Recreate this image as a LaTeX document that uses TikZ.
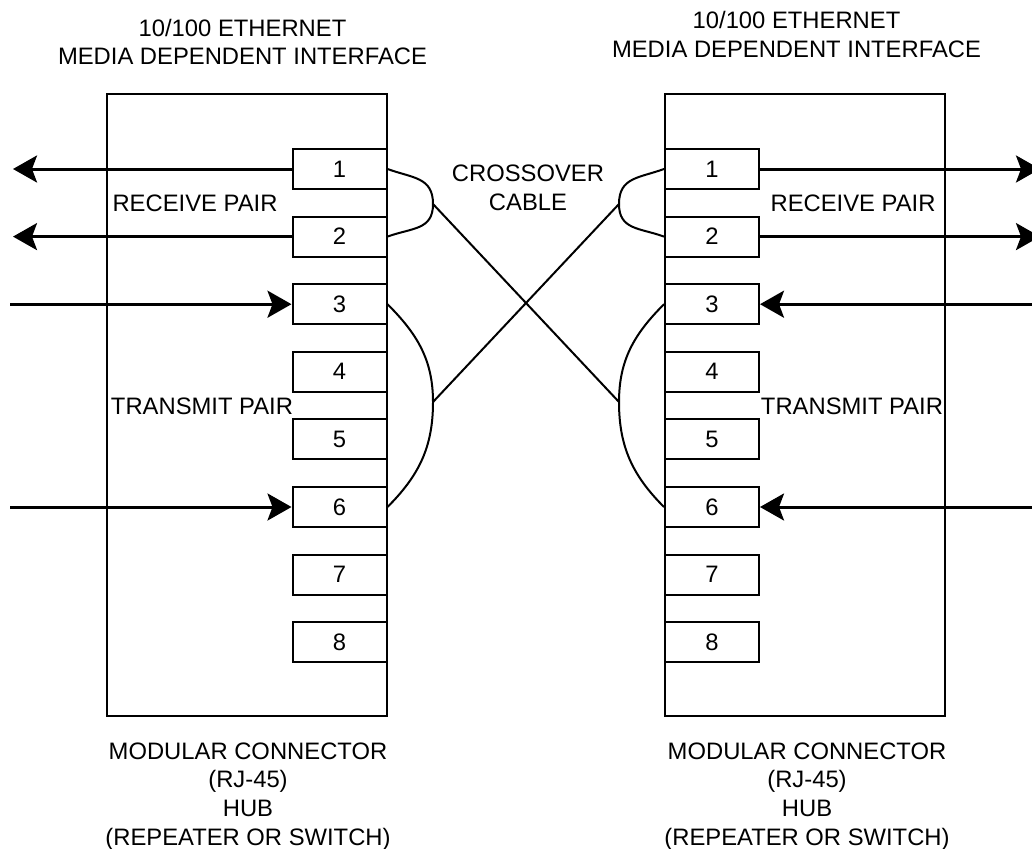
\documentclass[tikz,border=0pt]{standalone}
\usepackage{fontspec}
\setmainfont{Liberation Sans}
\usetikzlibrary{arrows.meta}
\begin{document}
\begin{tikzpicture}[x=0.5pt,y=0.5pt]
    \tikzset{hub/.style = {shape=rectangle,draw,line width=1pt,minimum width=140pt,minimum height=311pt}}
    \tikzset{pin/.style = {shape=rectangle,draw,line width=1pt,minimum width=47pt,minimum height=20pt,inner sep=0pt,font=\fontsize{11.9pt}{14.4pt}\selectfont}}
    \tikzset{txt/.style = {align=center,inner sep=0pt,font=\fontsize{11.9pt}{14.4pt}\selectfont}}
    \tikzset{wire/.style = {line width=1pt}}
    \tikzset{signal/.style = {-{Stealth[length=12pt,width=13.5pt,inset=2.5pt]},line width=1.5pt}}
    \useasboundingbox (0,0) rectangle (1032,848);
    \clip (0,0) rectangle (1032,848);
    \node[hub] (hubL) at (246.5,443) {};
    \node[hub] (hubR) at (805,443) {};
    \node[pin] (L1) at (339.5,679) {1};
    \node[pin] (L2) at (339.5,611.4) {2};
    \node[pin] (L3) at (339.5,543.8) {3};
    \node[pin] (L4) at (339.5,476.2) {4};
    \node[pin] (L5) at (339.5,408.6) {5};
    \node[pin] (L6) at (339.5,341) {6};
    \node[pin] (L7) at (339.5,273.4) {7};
    \node[pin] (L8) at (339.5,205.8) {8};
    \node[pin] (R1) at (712,679) {1};
    \node[pin] (R2) at (712,611.4) {2};
    \node[pin] (R3) at (712,543.8) {3};
    \node[pin] (R4) at (712,476.2) {4};
    \node[pin] (R5) at (712,408.6) {5};
    \node[pin] (R6) at (712,341) {6};
    \node[pin] (R7) at (712,273.4) {7};
    \node[pin] (R8) at (712,205.8) {8};
    \node[txt] (titleL) at (242.5,806) {10/100 ETHERNET\\MEDIA DEPENDENT INTERFACE};
    \node[txt] (titleR) at (796.5,813.5) {10/100 ETHERNET\\MEDIA DEPENDENT INTERFACE};
    \node[txt] (baseL) at (248,51.5) {MODULAR CONNECTOR\\(RJ-45)\\HUB\\(REPEATER OR SWITCH)};
    \node[txt] (baseR) at (807,51.5) {MODULAR CONNECTOR\\(RJ-45)\\HUB\\(REPEATER OR SWITCH)};
    \node[txt] (rxpairL) at (195,645) {RECEIVE PAIR};
    \node[txt] (txpairL) at (202,442) {TRANSMIT PAIR};
    \node[txt] (rxpairR) at (853,645) {RECEIVE PAIR};
    \node[txt] (txpairR) at (852,442) {TRANSMIT PAIR};
    \node[txt] (cable) at (528,660.5) {CROSSOVER\\CABLE};
    \coordinate (rxL) at (433,644);
    \coordinate (txL) at (433,446);
    \coordinate (rxR) at (619,644);
    \coordinate (txR) at (619,446);
    \coordinate (outL1) at (13,679);
    \coordinate (outL2) at (13,611.4);
    \coordinate (inL3) at (10,543.8);
    \coordinate (inL6) at (10,341);
    \coordinate (outR1) at (1040,679);
    \coordinate (outR2) at (1040,611.4);
    \coordinate (inR3) at (1032,543.8);
    \coordinate (inR6) at (1032,341);
    \draw[signal] (L1) to (outL1);
    \draw[signal] (L2) to (outL2);
    \draw[signal] (inL3) to (L3);
    \draw[signal] (inL6) to (L6);
    \draw[signal] (R1) to (outR1);
    \draw[signal] (R2) to (outR2);
    \draw[signal] (inR3) to (R3);
    \draw[signal] (inR6) to (R6);
    \draw[wire] (L1.east) to[out=-20,in=90,looseness=1.2] (rxL) to[out=-90,in=20,looseness=1.2] (L2.east);
    \draw[wire] (L3.east) to[out=-45,in=90] (txL) to[out=-90,in=45] (L6.east);
    \draw[wire] (R1.west) to[out=-160,in=90,looseness=1.2] (rxR) to[out=-90,in=160,looseness=1.2] (R2.west);
    \draw[wire] (R3.west) to[out=-135,in=90] (txR) to[out=-90,in=135] (R6.west);
    \draw[wire] (rxL) to (txR);
    \draw[wire] (rxR) to (txL);
\end{tikzpicture}
\end{document}
